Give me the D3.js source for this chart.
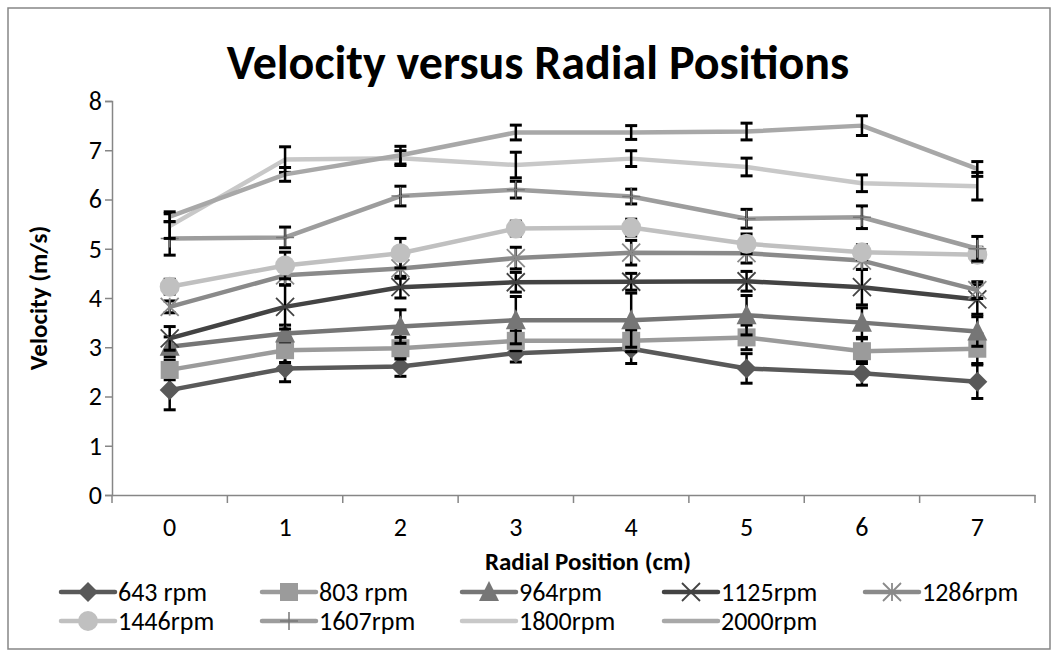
<!DOCTYPE html>
<html>
<head>
<meta charset="utf-8">
<script src="https://cdn.jsdelivr.net/npm/d3@7"></script>
<style>
  body { margin: 0; background: #fff; }
  text { font-family: Carlito, Calibri, Lato, sans-serif; }
</style>
</head>
<body>
<div id="chart"></div>
<script>
// radial positions (cm)
var positions = [0, 1, 2, 3, 4, 5, 6, 7];
var yTicks = [0, 1, 2, 3, 4, 5, 6, 7, 8];

var names = ["643 rpm", "803 rpm", "964rpm", "1125rpm", "1286rpm", "1446rpm", "1607rpm", "1800rpm", "2000rpm"];

// velocities (m/s), one array per speed
var v643  = [2.13, 2.57, 2.61, 2.88, 2.97, 2.57, 2.47, 2.30];
var v803  = [2.54, 2.94, 2.98, 3.13, 3.13, 3.20, 2.92, 2.97];
var v964  = [3.01, 3.28, 3.42, 3.55, 3.55, 3.65, 3.50, 3.32];
var v1125 = [3.18, 3.82, 4.22, 4.32, 4.33, 4.34, 4.22, 3.97];
var v1286 = [3.82, 4.46, 4.60, 4.81, 4.92, 4.91, 4.76, 4.16];
var v1446 = [4.23, 4.66, 4.91, 5.41, 5.43, 5.10, 4.93, 4.88];
var v1607 = [5.21, 5.23, 6.07, 6.20, 6.06, 5.61, 5.64, 5.00];
var v1800 = [5.46, 6.81, 6.84, 6.70, 6.83, 6.66, 6.33, 6.27];
var v2000 = [5.65, 6.51, 6.90, 7.36, 7.36, 7.38, 7.50, 6.62];

// error bar half widths
var e643  = [0.40, 0.27, 0.20, 0.18, 0.30, 0.30, 0.24, 0.34];
var e803  = [0.20, 0.25, 0.22, 0.20, 0.22, 0.25, 0.25, 0.30];
var e964  = [0.20, 0.17, 0.34, 0.48, 0.55, 0.40, 0.30, 0.30];
var e1125 = [0.24, 0.45, 0.22, 0.20, 0.17, 0.20, 0.36, 0.30];
var e1286 = [0.12, 0.20, 0.20, 0.22, 0.25, 0.20, 0.18, 0.17];
var e1446 = [0.15, 0.27, 0.30, 0.15, 0.17, 0.20, 0.15, 0.15];
var e1607 = [0.34, 0.21, 0.20, 0.17, 0.15, 0.19, 0.23, 0.25];
var e1800 = [0.25, 0.26, 0.15, 0.26, 0.16, 0.18, 0.17, 0.28];
var e2000 = [0.10, 0.14, 0.18, 0.15, 0.14, 0.17, 0.20, 0.15];

var values = [v643, v803, v964, v1125, v1286, v1446, v1607, v1800, v2000];
var errors = [e643, e803, e964, e1125, e1286, e1446, e1607, e1800, e2000];
var colors = ["#595959", "#9b9b9b", "#767676", "#434343", "#8a8a8a", "#c0c0c0", "#9d9d9d", "#c8c8c8", "#a8a8a8"];
var markers = ["diamond", "square", "triangle", "x", "star", "circle", "plus", "none", "none"];

var width = 1058, height = 657;
var margin = {top: 101, right: 23, bottom: 162, left: 112};
var font = "Carlito, Calibri, Lato, sans-serif";

var svg = d3.select("#chart").append("svg")
  .attr("width", width)
  .attr("height", height);

// outer chart border
svg.append("rect")
  .attr("x", 8).attr("y", 8)
  .attr("width", 1042).attr("height", 641)
  .attr("fill", "#fff")
  .attr("stroke", "#868686")
  .attr("stroke-width", 1.5);

var x = d3.scaleBand()
  .domain(positions)
  .range([margin.left, width - margin.right])
  .padding(0);
var y = d3.scaleLinear()
  .domain([0, 8])
  .range([height - margin.bottom, margin.top]);

function cx(i) { return x(positions[i]) + x.bandwidth() / 2; }

// y axis
var yAxis = svg.append("g")
  .attr("transform", "translate(" + margin.left + ",0)")
  .call(d3.axisLeft(y).tickValues(yTicks).tickSize(7).tickPadding(3));
yAxis.select(".domain").attr("stroke", "#868686").attr("stroke-width", 1.5);
yAxis.selectAll(".tick line").attr("stroke", "#868686").attr("stroke-width", 1.5);
yAxis.selectAll(".tick text").attr("font-size", 26).attr("fill", "#000")
  .style("font-family", font);

// x axis, ticks sit between categories
var xAxis = svg.append("g")
  .attr("transform", "translate(0," + y(0) + ")")
  .call(d3.axisBottom(x).tickSize(0).tickPadding(23));
xAxis.select(".domain").attr("stroke", "#868686").attr("stroke-width", 1.5);
xAxis.selectAll(".tick text").attr("font-size", 26).attr("fill", "#000")
  .style("font-family", font);
var edges = positions.map(function(p) { return x(p); }).concat([x.range()[1]]);
xAxis.selectAll(".edge")
  .data(edges)
  .enter().append("line")
  .attr("x1", function(d) { return d; })
  .attr("x2", function(d) { return d; })
  .attr("y1", 0).attr("y2", 8)
  .attr("stroke", "#868686").attr("stroke-width", 1.5);

// titles
svg.append("text")
  .attr("x", 538).attr("y", 79)
  .attr("text-anchor", "middle")
  .attr("font-size", 48).attr("font-weight", "bold")
  .text("Velocity versus Radial Positions");
svg.append("text")
  .attr("x", 588).attr("y", 570)
  .attr("text-anchor", "middle")
  .attr("font-size", 25).attr("font-weight", "bold")
  .text("Radial Position (cm)");
svg.append("text")
  .attr("transform", "translate(47,298) rotate(-90)")
  .attr("text-anchor", "middle")
  .attr("font-size", 25).attr("font-weight", "bold")
  .text("Velocity (m/s)");

// marker drawing
function drawMarker(g, type, px, py, col) {
  var r = 9;
  if (type == "diamond") {
    g.append("path").attr("d", "M" + px + "," + (py - r - 1) + "L" + (px + r + 1) + "," + py + "L" + px + "," + (py + r + 1) + "L" + (px - r - 1) + "," + py + "Z")
      .attr("fill", col);
  } else if (type == "square") {
    g.append("rect").attr("x", px - r).attr("y", py - r).attr("width", 2 * r).attr("height", 2 * r).attr("fill", col);
  } else if (type == "triangle") {
    g.append("path").attr("d", "M" + px + "," + (py - r - 2) + "L" + (px + r + 1) + "," + (py + r) + "L" + (px - r - 1) + "," + (py + r) + "Z")
      .attr("fill", col);
  } else if (type == "circle") {
    g.append("circle").attr("cx", px).attr("cy", py).attr("r", r + 1).attr("fill", col);
  } else if (type == "x") {
    g.append("path").attr("d", "M" + (px - r) + "," + (py - r) + "L" + (px + r) + "," + (py + r) + "M" + (px + r) + "," + (py - r) + "L" + (px - r) + "," + (py + r))
      .attr("stroke", col).attr("stroke-width", 1.8).attr("fill", "none");
  } else if (type == "star") {
    g.append("path").attr("d", "M" + (px - r) + "," + (py - r) + "L" + (px + r) + "," + (py + r) + "M" + (px + r) + "," + (py - r) + "L" + (px - r) + "," + (py + r) + "M" + px + "," + (py - r) + "L" + px + "," + (py + r))
      .attr("stroke", col).attr("stroke-width", 1.8).attr("fill", "none");
  } else if (type == "plus") {
    g.append("path").attr("d", "M" + px + "," + (py - r) + "L" + px + "," + (py + r) + "M" + (px - r) + "," + py + "L" + (px + r) + "," + py)
      .attr("stroke", col).attr("stroke-width", 1.5).attr("fill", "none");
  }
}

var line = d3.line()
  .x(function(d, i) { return cx(i); })
  .y(function(d) { return y(d); });

var plot = svg.append("g");

values.forEach(function(vals, s) {
  var g = plot.append("g");
  g.append("path")
    .datum(vals)
    .attr("fill", "none")
    .attr("stroke", colors[s])
    .attr("stroke-width", 4.5)
    .attr("stroke-linejoin", "round")
    .attr("d", line);

  // error bars
  var eb = g.selectAll(".err")
    .data(vals)
    .enter().append("g");
  eb.append("line")
    .attr("x1", function(d, i) { return cx(i); })
    .attr("x2", function(d, i) { return cx(i); })
    .attr("y1", function(d, i) { return y(d + errors[s][i]); })
    .attr("y2", function(d, i) { return y(d - errors[s][i]); })
    .attr("stroke", "#000").attr("stroke-width", 2.5);
  [1, -1].forEach(function(sign) {
    eb.append("line")
      .attr("x1", function(d, i) { return cx(i) - 6; })
      .attr("x2", function(d, i) { return cx(i) + 6; })
      .attr("y1", function(d, i) { return y(d + sign * errors[s][i]); })
      .attr("y2", function(d, i) { return y(d + sign * errors[s][i]); })
      .attr("stroke", "#000").attr("stroke-width", 3);
  });

  vals.forEach(function(d, i) {
    drawMarker(g, markers[s], cx(i), y(d), markers[s] == "plus" ? "#777" : colors[s]);
  });
});

// legend
var legX = [61, 262, 462, 664, 865];
var legY = [592, 621];
names.forEach(function(n, s) {
  var lx = legX[s % 5], ly = legY[Math.floor(s / 5)];
  var g = svg.append("g");
  g.append("line")
    .attr("x1", lx).attr("x2", lx + 54)
    .attr("y1", ly).attr("y2", ly)
    .attr("stroke", colors[s]).attr("stroke-width", 4.5).attr("stroke-linecap", "round");
  drawMarker(g, markers[s], lx + 27, ly, markers[s] == "plus" ? "#777" : colors[s]);
  g.append("text")
    .attr("x", lx + 57).attr("y", ly + 9)
    .attr("font-size", 26)
    .text(n);
});
</script>
</body>
</html>
